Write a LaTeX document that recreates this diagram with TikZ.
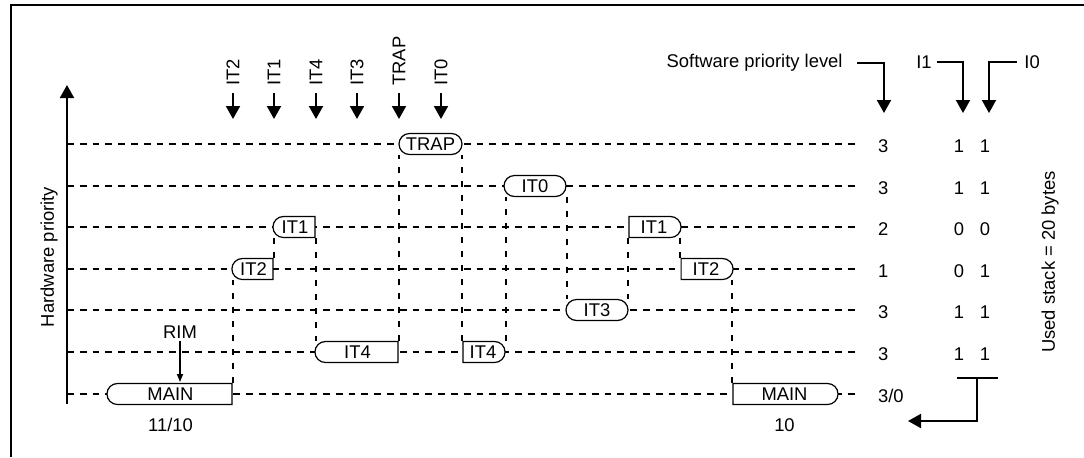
\documentclass[tikz,border=0pt]{standalone}
\usepackage{fontspec}
\setmainfont{Liberation Sans}
\usetikzlibrary{arrows.meta,calc,positioning,shapes.misc}

\begin{document}
\begin{tikzpicture}[x=0.5pt,y=-0.5pt,font=\fontsize{9.2}{11}\selectfont,
	grid/.style={dash pattern=on 3.4pt off 3pt, line width=1pt},
	link/.style={dash pattern=on 3pt off 4pt, line width=1pt},
	task/.style={rounded rectangle, draw, fill=white, line width=0.6pt, minimum height=10.5pt, inner sep=0pt},
	sqleft/.style={rounded rectangle left arc=none},
	sqright/.style={rounded rectangle right arc=none},
	sig/.style={-{Triangle[width=7pt,length=6.5pt]}, line width=1pt}]
					\useasboundingbox (0,0) rectangle (1084,457);
					\draw[line width=1.4pt] (11,457) -- (11,5) -- (1084,5);
					
					% priority levels
					\foreach \y/\p/\a/\b [count=\k] in {144/3/1/1,186/3/1/1,227/2/0/0,269/1/0/1,310/3/1/1,352/3/1/1}{
						\draw[grid] (67,\y) -- (858,\y);
						\node[anchor=west] (sw\k) at (871,\y+2) {\p};
						\node (iA\k) at (959,\y+2) {\a};
						\node (iB\k) at (985,\y+2) {\b};
					}
					\draw[grid] (67,394) -- (858,394);
					\node[anchor=west] (sw7) at (871,396) {3/0};
					
					% axis
					\coordinate (axBot) at (67,404);
					\coordinate (axTop) at (67,85);
					\draw[sig] (axBot) -- (axTop);
					\node[rotate=90] (hwprio) at (49,257) {Hardware priority};
					\node[rotate=90] (ustack) at (1050,262) {Used stack = 20 bytes};
					
					% tasks
					\node[task, sqright, minimum width=62.5pt] (main1) at (170.5,394) {MAIN};
					\node[task, sqright, minimum width=20.5pt] (it2a) at (253.5,269) {IT2};
					\node[task, sqright, minimum width=21pt] (it1a) at (295,227) {IT1};
					\node[task, sqright, minimum width=41.5pt] (it4a) at (357.5,352) {IT4};
					\node[task, minimum width=31.5pt] (trap) at (430.5,144) {TRAP};
					\node[task, sqleft, minimum width=21pt] (it4b) at (483,352) {IT4};
					\node[task, minimum width=31pt] (it0) at (535,186) {IT0};
					\node[task, minimum width=31pt] (it3) at (597,310) {IT3};
					\node[task, sqleft, minimum width=26pt] (it1b) at (654,227) {IT1};
					\node[task, sqleft, minimum width=26pt] (it2b) at (706,269) {IT2};
					\node[task, sqleft, minimum width=52.5pt] (main2) at (784.5,394) {MAIN};
					\node[below=3pt of main1] (stk1) {11/10};
					\node[below=3pt of main2] (stk2) {10};
					
					\draw[link] (main1.north east) -- (main1.north east |- it2a.south);
					\draw[link] (it2a.north east) -- (it2a.north east |- it1a.south);
					\draw[link] (it1a.south east) -- (it1a.south east |- it4a.north);
					\draw[link] (it4a.north east) -- (it4a.north east |- trap.south);
					\draw[link] (it4b.north west) -- (it4b.north west |- trap.south);
					\draw[link] (it4b.east |- it4b.north) -- (it4b.east |- it0.south);
					\draw[link] (it0.east |- it0.south) -- (it0.east |- it3.north);
					\draw[link] (it1b.south west) -- (it1b.south west |- it3.north);
					\draw[link] (it2b.north west) -- (it2b.north west |- it1b.south);
					\draw[link] (main2.north west) -- (main2.north west |- it2b.south);
					
					% RIM
					\node[inner sep=1pt] (rim) at (180,332) {RIM};
					\coordinate (rimTip) at (180,382);
					\draw[-{Triangle[width=3pt,length=4pt]}, line width=0.8pt] (rim.south) -- (rimTip);
					
					% interrupt requests
					\foreach \n/\x in {IT2/233,IT1/274,IT4/316,IT3/357,TRAP/399,IT0/441}{
						\node[rotate=90, anchor=west, inner xsep=3.5pt, inner ysep=0pt] (in\n) at (\x,93) {\n};
						\coordinate (tip\n) at (\x,119);
						\draw[sig] (in\n.west) -- (tip\n);
					}
					
					% column heads
					\node[anchor=east, inner sep=0pt] (swlevel) at (843,63) {Software priority level};
					\node[anchor=east, inner sep=0pt] (lI1) at (932,62) {I1};
					\node[anchor=west, inner sep=0pt] (lI0) at (1024,62) {I0};
					\coordinate (swTip) at (884,113);
					\coordinate (i1Tip) at (963,113);
					\coordinate (i0Tip) at (989,113);
					\draw[sig] ([xshift=7pt]swlevel.east) -| (swTip);
					\draw[sig] ([xshift=2.5pt]lI1.east) -| (i1Tip);
					\draw[sig] ([xshift=-3.5pt]lI0.west) -| (i0Tip);
					
					% stack return
					\coordinate (brL) at (957,378);
					\coordinate (brR) at (998,378);
					\coordinate (brM) at (977,378);
					\coordinate (brTip) at (908,421);
					\draw[line width=1pt] (brL) -- (brR);
					\draw[sig] (brM) |- (brTip);
					\end{tikzpicture}
\end{document}
